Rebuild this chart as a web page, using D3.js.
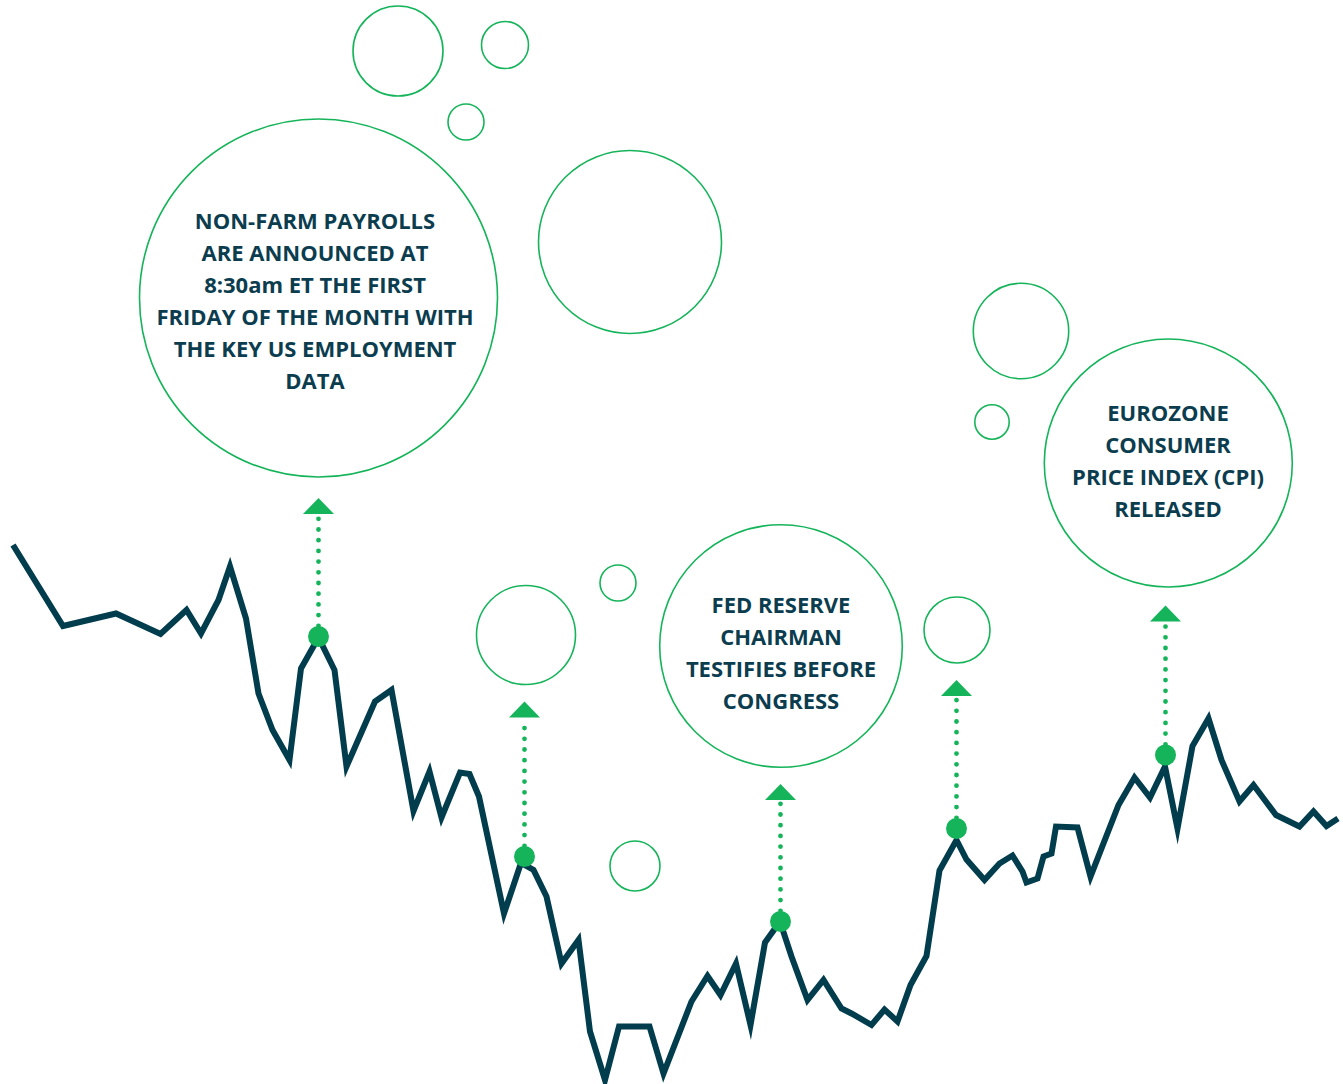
<!DOCTYPE html>
<html>
<head>
<meta charset="utf-8">
<title>Market events</title>
<script src="https://cdn.jsdelivr.net/npm/d3@7"></script>
<style>
  html, body { margin: 0; padding: 0; background: #fff; }
  svg { display: block; }
  .lbl { font-family: "Open Sans", sans-serif; font-weight: 700; fill: #0b3d4f; }
</style>
</head>
<body>
<div id="chart"></div>
<script>
// price path (time index / level)
var times  = [0, 10, 20.6, 29.5, 34.7, 37.6, 41.1, 43.4, 46.6, 49.1, 51.9, 55.3, 57.6, 61.1, 64.3, 66.7,
              72.4, 75.7, 80.1, 83.3, 85.7, 89.4, 91.3, 93.2, 98.2, 101.6, 104.1, 106.7, 109.7, 113.1,
              115.4, 118.4, 121.2, 127.3, 130.1, 135.7, 138.9, 141.5, 144.6, 147.5, 150.4, 153.4, 155.7,
              158.9, 162.1, 165.7, 167.7, 171.7, 174.3, 176.9, 179.5, 182.7, 185.3, 188.7, 190.7, 194.3,
              197.3, 199.9, 201.9, 202.7, 204.9, 206.1, 207.7, 208.6, 212.9, 215.5, 221.1, 224.3, 227.4,
              230.4, 232.9, 235.9, 239.1, 241.7, 245.3, 248.1, 252.6, 257.3, 260.1, 262.7, 265];
var levels = [109, 92.8, 95.3, 91.2, 96, 91.3, 98, 104.7, 94.3, 79.3, 72, 66, 84.3, 90.5, 84, 64.7,
              77.7, 80, 55.8, 63.7, 54.5, 63.5, 63.2, 58.7, 35.3, 45.4, 44, 38.7, 25.3, 30,
              11.7, 2, 12.7, 12.7, 3.3, 17.7, 22.8, 19, 25.3, 13, 29.5, 33.7, 26.7,
              18, 22, 16.3, 15.3, 13, 16.1, 13.7, 21, 26.8, 43.9, 50, 46.1, 42,
              45.3, 46.9, 43.7, 41.5, 42.3, 46.7, 47.3, 52.7, 52.5, 42.7, 57, 62.5, 58.5,
              64.7, 52.3, 68.8, 74.3, 66, 57.7, 61, 55, 52.7, 55.7, 52.8, 54.3];

// events: where the marker sits and how high the arrow reaches
var eventTimes  = [61.1, 102.3, 153.5, 188.7, 230.5];
var eventLevels = [90.7, 46.7, 33.7, 52.3, 67];
var arrowTops   = [118.4, 77.7, 61.2, 82, 96.9];

// callout texts
var calloutLines = [
  ["NON-FARM PAYROLLS", "ARE ANNOUNCED AT", "8:30am ET THE FIRST", "FRIDAY OF THE MONTH WITH", "THE KEY US EMPLOYMENT", "DATA"],
  ["FED RESERVE", "CHAIRMAN", "TESTIFIES BEFORE", "CONGRESS"],
  ["EUROZONE", "CONSUMER", "PRICE INDEX (CPI)", "RELEASED"]
];

// layout of the callout circles and the decorative bubbles
var callouts = [
  {cx: 318.5, cy: 298, r: 179, tx: 315, ty: 221},
  {cx: 781, cy: 646, r: 121.3, tx: 781, ty: 605},
  {cx: 1168.3, cy: 463, r: 124, tx: 1168, ty: 413}
];
var bubbles = [
  {cx: 398, cy: 51, r: 45}, {cx: 505, cy: 45, r: 23.5}, {cx: 466, cy: 122, r: 18},
  {cx: 630, cy: 242, r: 91.5}, {cx: 618, cy: 583, r: 18}, {cx: 526, cy: 635, r: 49.5},
  {cx: 635, cy: 866, r: 25}, {cx: 957, cy: 630, r: 33}, {cx: 1021, cy: 331, r: 47.7},
  {cx: 992, cy: 422, r: 17.2}
];

var W = 1343, H = 1084;
var GREEN = "#16b45a", NAVY = "#023d4e";

var svg = d3.select("#chart").append("svg").attr("width", W).attr("height", H);

var x = d3.scaleLinear().domain([0, 265]).range([13, 1338]);
var y = d3.scaleLinear().domain([0, 110]).range([1090, 540]);

// bubbles
svg.selectAll("circle.bubble").data(bubbles.concat(callouts)).enter().append("circle")
  .attr("class", "bubble")
  .attr("cx", function(d){ return d.cx; })
  .attr("cy", function(d){ return d.cy; })
  .attr("r", function(d){ return d.r; })
  .style("fill", "none").style("stroke", GREEN).style("stroke-width", 1.6);

// callout text
callouts.forEach(function(c, i){
  svg.append("text").attr("class", "lbl").attr("text-anchor", "middle")
    .style("font-size", "22px")
    .selectAll("tspan").data(calloutLines[i]).enter().append("tspan")
    .attr("x", c.tx)
    .attr("y", function(d, j){ return c.ty + j * 32 + 8; })
    .text(function(d){ return d; });
});

// price line
var pts = times.map(function(t, i){ return [t, levels[i]]; });
var line = d3.line().x(function(d){ return x(d[0]); }).y(function(d){ return y(d[1]); });
svg.append("path").datum(pts).attr("d", line)
  .style("fill", "none").style("stroke", NAVY).style("stroke-width", 6)
  .style("stroke-linejoin", "miter").style("stroke-miterlimit", 10);

// event arrows
var ev = eventTimes.map(function(t, i){ return {t: t, v: eventLevels[i], top: arrowTops[i]}; });
var g = svg.selectAll("g.event").data(ev).enter().append("g").attr("class", "event");
g.append("line")
  .attr("x1", function(d){ return x(d.t); }).attr("x2", function(d){ return x(d.t); })
  .attr("y1", function(d){ return y(d.v) - 10.7; })
  .attr("y2", function(d){ return y(d.top) + 16; })
  .style("stroke", GREEN).style("stroke-width", 4.8)
  .style("stroke-linecap", "round").style("stroke-dasharray", "0,10.7");
g.append("path")
  .attr("d", function(d){
    var px = x(d.t), py = y(d.top);
    return "M" + px + "," + py + "L" + (px + 15.5) + "," + (py + 16) + "L" + (px - 15.5) + "," + (py + 16) + "Z";
  })
  .style("fill", GREEN);
g.append("circle")
  .attr("cx", function(d){ return x(d.t); }).attr("cy", function(d){ return y(d.v); })
  .attr("r", 10.5).style("fill", GREEN);
</script>
</body>
</html>
